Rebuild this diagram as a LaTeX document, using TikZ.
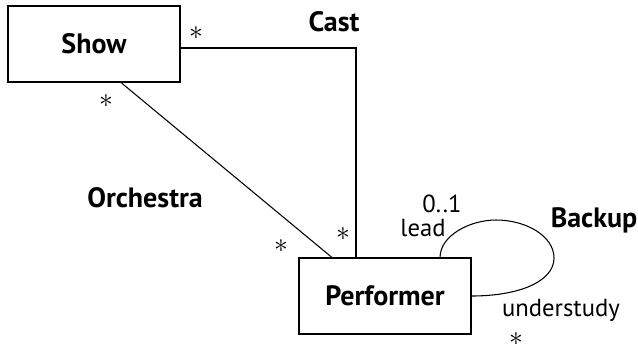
\documentclass[tikz,border=0pt]{standalone}
\usepackage{fontspec}
\setmainfont{PT Sans}
\usetikzlibrary{positioning, calc}

\begin{document}
\begin{tikzpicture}[x=0.75pt, y=-0.75pt,
  class/.style={draw, line width=0.8pt, minimum width=129pt, minimum height=57pt,
                font=\fontsize{21}{23}\selectfont\bfseries},
  assoc/.style={font=\fontsize{21}{23}\selectfont\bfseries},
  role/.style={font=\fontsize{18.5}{20}\selectfont, inner sep=0pt},
  mult/.style={font=\fontsize{21}{21}\selectfont, inner sep=0pt},
  link/.style={line width=0.8pt},
]
  \useasboundingbox (0,0) rectangle (638,344);

  \node[class] (show) at (94,44) {Show};
  \node[class] (perf) at (385,296) {Performer};

  % Cast
  \coordinate (castcorner) at (356,48);
  \draw[link] (show.east |- castcorner) -- (castcorner) -- (perf.north -| castcorner);
  \node[assoc] (cast) at (334,22) {Cast};
  \node[mult] at (196,33) {$*$};
  \node[mult] at (343,234) {$*$};

  % Orchestra
  \draw[link] (show.-55.6) -- (perf.144.9);
  \node[assoc] (orch) at (145,198) {Orchestra};
  \node[mult] at (106,101) {$*$};
  \node[mult] at (281,246) {$*$};

  % Backup
  \draw[link] (perf.35.6) .. controls +(0,-22) and (470,220) .. (496,220)
    .. controls (526,220) and (554,236) .. (554,258)
    .. controls (554,282) and (518,296) .. (perf.east);
  \node[assoc] (backup) at (594,220) {Backup};
  \node[role] at (442,204) {0..1};
  \node[role] at (423,228) {lead};
  \node[role] at (561,310) {understudy};
  \node[mult] at (516,339) {$*$};
\end{tikzpicture}
\end{document}
